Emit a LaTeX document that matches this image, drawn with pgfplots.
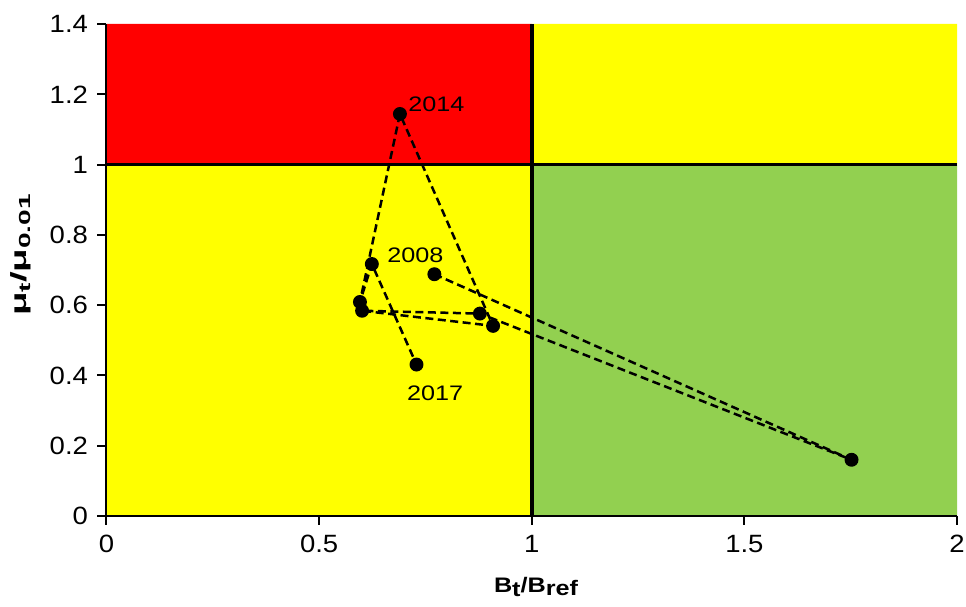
\documentclass[border=0pt]{standalone}
\usepackage{fontspec}
\setmainfont{Liberation Sans}
\usepackage{graphicx}
\usepackage{pgfplots}
\usepackage{pgfplotstable}
\pgfplotsset{compat=1.18}

\definecolor{zonered}{HTML}{FF0000}
\definecolor{zoneyellow}{HTML}{FFFF00}
\definecolor{zonegreen}{HTML}{92D050}

% slightly widened text, as in the original chart
\newcommand\wtick[1]{\scalebox{1.1}[1]{#1}}
\newcommand\wlab[1]{\scalebox{1.2}[1]{#1}}

% Stock trajectory: relative biomass vs relative mortality
\pgfplotstableread{
x      y
0.771  0.688
1.752  0.160
0.878  0.576
0.601  0.584
0.909  0.541
0.690  1.144
0.596  0.609
0.624  0.717
0.729  0.431
}\trajectory

\begin{document}
\begin{tikzpicture}
\begin{axis}[
  name=ax,
  scale only axis,
  width=850.5pt, height=492pt,
  xmin=0, xmax=2, ymin=0, ymax=1.4,
  axis lines=left,
  axis line style={-, line width=2pt, black},
  axis on top,
  xtick={0,0.5,1,1.5,2},
  xticklabels={\wtick{0},\wtick{0.5},\wtick{1},\wtick{1.5},\wtick{2}},
  ytick={0,0.2,0.4,0.6,0.8,1,1.2,1.4},
  yticklabels={\wtick{0},\wtick{0.2},\wtick{0.4},\wtick{0.6},\wtick{0.8},\wtick{1},\wtick{1.2},\wtick{1.4}},
  tick align=outside,
  major tick length=9pt,
  tick style={line width=2pt, black},
  tick label style={font=\fontsize{25}{29}\selectfont},
  xticklabel style={yshift=-7pt},
  yticklabel style={xshift=-6pt},
  xlabel={\scalebox{1.2}[1]{B\lower4pt\hbox{t}/B\lower3.5pt\hbox{ref}}},
  ylabel={\scalebox{1.75}[1]{μ\lower4pt\hbox{\fontsize{16}{18}\selectfont t}/μ\lower4pt\hbox{\fontsize{16}{18}\selectfont 0.01}}},
  xlabel style={font=\bfseries\fontsize{21}{25}\selectfont,
    at={(axis description cs:0.505,-0.1545)}, anchor=base},
  ylabel style={font=\bfseries\fontsize{22}{26}\selectfont,
    at={(axis description cs:-0.0935,0.5305)}, anchor=base},
]
% status zones
\addplot[fill=zonered, draw=none] coordinates {(0,1) (1,1) (1,1.4) (0,1.4) (0,1)};
\addplot[fill=zoneyellow, draw=none] coordinates {(1,1) (2,1) (2,1.4) (1,1.4) (1,1)};
\addplot[fill=zoneyellow, draw=none] coordinates {(0,0) (1,0) (1,1) (0,1) (0,0)};
\addplot[fill=zonegreen, draw=none] coordinates {(1,0) (2,0) (2,1) (1,1) (1,0)};
% reference lines
\addplot[black, line width=3.8pt] coordinates {(1,0) (1,1.4)};
\addplot[black, line width=3.8pt] coordinates {(0,1) (2,1)};
% trajectory
\addplot[black, line width=2.5pt, dash pattern=on 8pt off 4.5pt,
  mark=*, mark size=5.7pt, mark options={solid, fill=black}] table[x=x, y=y] {\trajectory};
% year labels
\node[anchor=base west, font=\fontsize{21}{25}\selectfont, inner sep=0pt] at (axis cs:0.7096,1.1506) {\wlab{2014}};
\node[anchor=base west, font=\fontsize{21}{25}\selectfont, inner sep=0pt] at (axis cs:0.660,0.722) {\wlab{2008}};
\node[anchor=base west, font=\fontsize{21}{25}\selectfont, inner sep=0pt] at (axis cs:0.7066,0.330) {\wlab{2017}};
\end{axis}
\pgfresetboundingbox
\path[use as bounding box] ([xshift=-106.5pt, yshift=-91pt]ax.south west) rectangle ([xshift=9pt, yshift=24pt]ax.north east);
\end{tikzpicture}
\end{document}
